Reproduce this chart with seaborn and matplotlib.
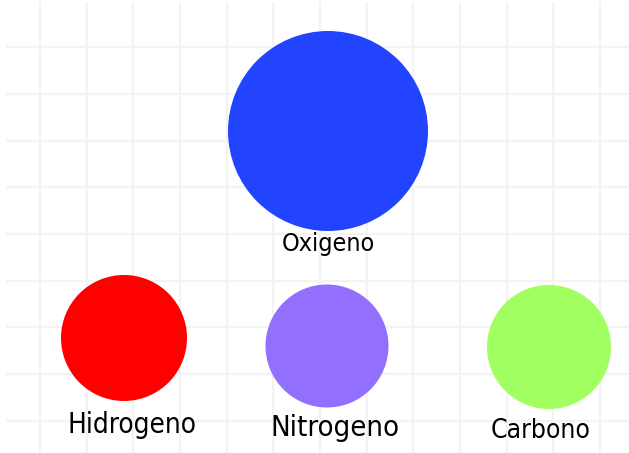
import matplotlib
matplotlib.use("Agg")
import matplotlib.pyplot as plt
import seaborn as sns
import pandas as pd
import numpy as np

# data
elements = ["Oxigeno", "Hidrogeno", "Nitrogeno", "Carbono"]
colors = ["#2244ff", "#ff0000", "#936fff", "#a1ff62"]
diameters_px = [200, 126, 123, 124]   # drawn circle size in pixels
x_pos = [328, 124, 327, 549]
y_pos = [131, 338, 346, 347]
label_x = [328, 132, 335, 541]
label_y = [244, 425, 428, 431]
label_sizes = [18, 20, 21, 19]

df = pd.DataFrame({"element": elements, "x": x_pos, "y": y_pos})

W, H = 629, 453
dpi = 100
sns.set_style("white")
plt.rcParams['font.family'] = ['DejaVu Sans']

fig = plt.figure(figsize=(W / dpi, H / dpi), dpi=dpi)
fig.patch.set_facecolor("white")
ax = fig.add_axes([6 / W, 0, (W - 6) / W, (H - 2) / H])
ax.set_xlim(6, W)
ax.set_ylim(H, 2)

# grid
ax.set_xticks(np.arange(40, W, 46.67))
ax.set_yticks(np.arange(47.3, H, 46.67))
ax.grid(True, color="#f3f3f3", linewidth=1.6)
ax.set_axisbelow(True)
ax.tick_params(length=0, labelbottom=False, labelleft=False)
for s in ax.spines.values():
    s.set_visible(False)

pt_per_px = 72 / dpi
sizes = {e: (d * pt_per_px) ** 2 for e, d in zip(elements, diameters_px)}
sns.scatterplot(data=df, x="x", y="y", hue="element", palette=dict(zip(elements, colors)),
                size="element", sizes=sizes, legend=False, linewidth=0, ax=ax, zorder=3)
ax.set_xlabel("")
ax.set_ylabel("")

for e, lx, ly, fs in zip(elements, label_x, label_y, label_sizes):
    ax.text(lx, ly, e, ha="center", va="center", fontsize=fs, color="black",
            fontstretch="condensed", zorder=4)

fig.savefig("out.png", dpi=dpi, facecolor="white")
